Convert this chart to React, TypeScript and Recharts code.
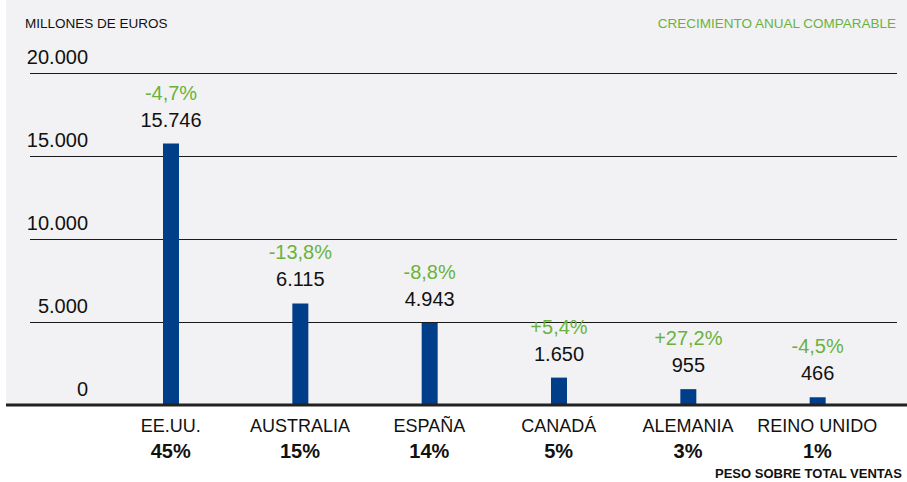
import { BarChart, Bar, XAxis, YAxis, CartesianGrid, ReferenceLine, LabelList } from "recharts";

const paises = ["EE.UU.", "AUSTRALIA", "ESPAÑA", "CANADÁ", "ALEMANIA", "REINO UNIDO"];
const ventas = [15746, 6115, 4943, 1650, 955, 466];
const crecimiento = ["-4,7%", "-13,8%", "-8,8%", "+5,4%", "+27,2%", "-4,5%"];
const peso = ["45%", "15%", "14%", "5%", "3%", "1%"];
const yTicks = [0, 5000, 10000, 15000, 20000];

const data = paises.map((pais, i) => ({ pais, ventas: ventas[i], crecimiento: crecimiento[i], peso: peso[i] }));

const FONT = "'Liberation Sans', Arial, Helvetica, sans-serif";
const GREEN = "#6ab23e";
const BLUE = "#003e89";

function formatMiles(v: number): string {
  return String(v).replace(/\B(?=(\d{3})+(?!\d))/g, ".");
}

function YTick(props: any) {
  const { y, payload } = props;
  return (
    <text x={88} y={y - 9} textAnchor="end" fontSize={20} fill="#111" fontFamily={FONT}>
      {formatMiles(payload.value)}
    </text>
  );
}

function XTick(props: any) {
  const { x, y, payload, index } = props;
  return (
    <g>
      <text x={x} y={y + 27} textAnchor="middle" fontSize={18} fill="#111" fontFamily={FONT}>
        {payload.value}
      </text>
      <text x={x} y={y + 53} textAnchor="middle" fontSize={20} fontWeight="bold" fill="#111" fontFamily={FONT}>
        {peso[index]}
      </text>
    </g>
  );
}

function BarLabel(props: any) {
  const { x, y, width, index, value } = props;
  const cx = x + width / 2;
  return (
    <g>
      <text x={cx} y={y - 44} textAnchor="middle" fontSize={20} fill={GREEN} fontFamily={FONT}>
        {crecimiento[index]}
      </text>
      <text x={cx} y={y - 17} textAnchor="middle" fontSize={20} fill="#111" fontFamily={FONT}>
        {formatMiles(value)}
      </text>
    </g>
  );
}

export default function App() {
  return (
    <div style={{ position: "absolute", left: 0, top: 0, width: 907, height: 482, background: "#fff", overflow: "hidden", fontFamily: FONT }}>
      <div style={{ position: "absolute", left: 6, top: 0, width: 901, height: 404, background: "#f2f2f4" }} />
      <div style={{ position: "absolute", left: 25, top: 16, fontSize: 13.5, color: "#111", whiteSpace: "nowrap" }}>
        MILLONES DE EUROS
      </div>
      <div style={{ position: "absolute", right: 11, top: 16, fontSize: 13.5, color: GREEN, whiteSpace: "nowrap" }}>
        CRECIMIENTO ANUAL COMPARABLE
      </div>
      <div style={{ position: "absolute", left: 715, top: 466, fontSize: 13, fontWeight: "bold", color: "#111", whiteSpace: "nowrap" }}>
        PESO SOBRE TOTAL VENTAS
      </div>
      <div style={{ position: "absolute", left: 0, top: 0 }}>
        <BarChart width={907} height={482} data={data} margin={{ top: 73, right: 10, bottom: 37, left: 0 }}>
          <CartesianGrid horizontal vertical={false} stroke="#1a1a1a" strokeWidth={1} shapeRendering="crispEdges" />
          <YAxis
            type="number"
            domain={[0, 20000]}
            ticks={yTicks}
            width={30}
            axisLine={false}
            tickLine={false}
            tick={<YTick />}
            interval={0}
          />
          <XAxis
            dataKey="pais"
            height={40}
            padding={{ left: 76, right: 15 }}
            axisLine={false}
            tickLine={false}
            tickSize={0}
            tickMargin={0}
            interval={0}
            tick={<XTick />}
          />
          <Bar dataKey="ventas" fill={BLUE} barSize={16} isAnimationActive={false}>
            <LabelList dataKey="ventas" content={<BarLabel />} />
          </Bar>
          <ReferenceLine
            y={0}
            stroke="#222"
            strokeWidth={3}
            shape={(p: any) => (
              <line x1={p.x1 - 24} y1={p.y1} x2={p.x2 + 10} y2={p.y2} stroke="#222" strokeWidth={3} />
            )}
          />
        </BarChart>
      </div>
    </div>
  );
}
